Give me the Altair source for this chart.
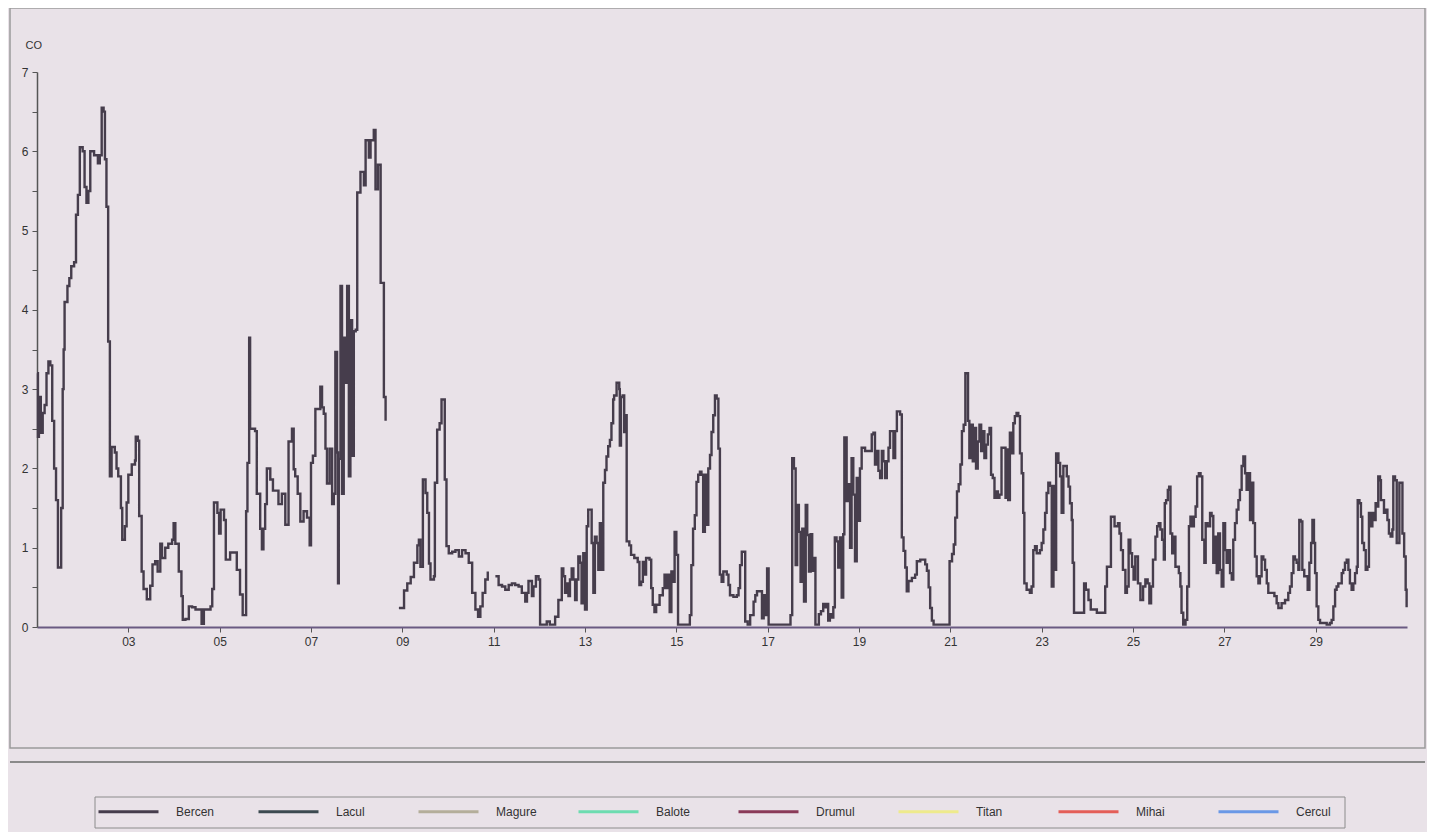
import altair as alt
import pandas as pd

# ---- data (hours since start of day 01, CO value) ----
seg1_hours = [0, 0.5, 1, 2, 3, 4, 5, 6, 7, 8, 9, 10, 11, 12.7, 13.5, 14, 14.5, 16, 17, 18, 19.5, 20.5, 21.5, 22.5,
              24, 25, 26, 27, 28, 30, 32, 33, 34, 35, 35.7, 36.5, 37.4, 38.3, 39.2, 40.9, 41.8, 42.7, 44.1, 44.8,
              46.2, 47.1, 48, 49.8, 51.5, 51.9, 53, 53.7, 55, 56, 57.7, 59.5, 60.7, 62.1, 63.4, 64.8, 65.7, 67.4,
              69, 71, 71.8, 72.7, 74.5, 75.9, 76.6, 78, 79.8, 81.5, 83.3, 85, 86.5, 87.7, 89.5, 91.2, 92.1, 93,
              94.8, 95.7, 96.5, 98.3, 99.2, 101.5, 104.1, 105, 106.7, 108.1, 109.4, 109.9, 110.6, 111.5, 112,
              114.6, 115.5, 117.3, 118.2, 119, 119.9, 120.8, 122.6, 124, 126.9, 128.7, 130.5, 132.2, 134, 134.9,
              135.7, 137, 138.4, 140.1, 141.9, 143.3, 144, 145, 146.3, 148.9, 149.8, 150.7, 151.6, 152.4, 153.8,
              155.1, 156, 156.8, 157.7, 158.2, 158.6, 159.5, 160.3, 161.2, 162.1, 163, 163.9, 164.7, 165.6, 166.5,
              167.5, 168.3, 170, 171.8, 172.7, 174.4, 175.3, 177, 177.9, 179.2, 180.6, 182.3, 183.2]
seg1_co = [3.2, 2.4, 2.9, 2.45, 2.7, 2.8, 3.2, 3.35, 3.3, 2.6, 2.0, 1.6, 0.75, 1.5, 3.0, 3.5, 4.1, 4.3, 4.4, 4.55, 4.6,
           5.2, 5.45, 6.05, 6.0, 5.55, 5.35, 5.5, 6.0, 5.95, 5.85, 5.95, 6.55, 6.5, 5.9, 5.3, 3.6, 1.9, 2.27, 2.2,
           2.0, 1.9, 1.5, 1.1, 1.27, 1.57, 1.92, 2.05, 2.1, 2.4, 2.35, 1.4, 0.7, 0.48, 0.35, 0.52, 0.79, 0.83, 0.7,
           1.05, 0.87, 1.0, 1.05, 1.1, 1.31, 1.05, 0.7, 0.39, 0.09, 0.1, 0.26, 0.25, 0.22, 0.22, 0.04, 0.22, 0.22,
           0.26, 0.48, 1.57, 1.44, 1.18, 1.48, 1.35, 0.85, 0.94, 0.94, 0.72, 0.41, 0.15, 0.15, 1.46, 2.07, 3.65,
           2.5, 2.47, 1.68, 1.24, 0.98, 1.24, 1.55, 2.0, 1.86, 1.72, 1.55, 1.68, 1.29, 2.34, 2.5, 1.99, 1.9, 1.68,
           1.33, 1.46, 1.38, 1.03, 2.07, 2.16, 2.75, 3.03, 2.77, 2.69, 2.25, 1.81, 2.25, 1.55, 1.68, 3.47, 2.2,
           0.55, 2.12, 4.3, 1.68, 3.65, 3.08, 4.3, 1.9, 3.87, 2.16, 3.73, 3.75, 5.48, 5.74, 5.57, 6.14, 5.92,
           6.14, 6.27, 5.52, 5.83, 4.34, 2.9, 2.6]

seg2_hours = [190.2, 192.9, 194.6, 196.4, 198.1, 199.9, 200.7, 201.5, 202.8, 204.2, 205.1, 206, 206.8, 208.6,
              209.1, 210.3, 211.6, 212.6, 213.8, 214.3, 215.2, 216.4, 218.2, 219.9, 221.7, 223.4, 225.2, 226.9,
              228.7, 230.4, 231.8, 233, 234.2, 235.6, 236.9]
seg2_co = [0.24, 0.46, 0.55, 0.63, 0.81, 1.03, 1.1, 0.76, 1.86, 1.69, 1.44, 0.8, 0.6, 0.64, 1.82, 2.49, 2.57,
           2.87, 2.87, 1.86, 1.02, 0.93, 0.95, 0.97, 0.89, 0.97, 0.93, 0.81, 0.43, 0.22, 0.13, 0.26, 0.43, 0.6, 0.7]

seg3_hours = [240.9, 242.6, 244.4, 246.1, 247.9, 249.6, 251.3, 253.1, 254.8, 256.6, 257.5, 258.3, 260.1, 260.9,
              262.2, 263.6, 264.4, 267.9, 269.5, 272.3, 274, 275.8, 276.6, 277.5, 278.4, 279.3, 280.1, 281,
              281.9, 282.8, 283.6, 284.5, 285.4, 286.2, 287.1, 288, 288.9, 289.7, 291.5, 292.4, 293.2, 294.1,
              295, 295.8, 296.7, 297.6, 298.5, 299.3, 300.2, 301.1, 301.9, 302.8, 303.3, 304.6, 306, 306.3,
              306.9, 307.8, 308.6, 309.5, 309.9, 311.3, 312.2, 313.9, 315.7, 316.6, 317.5, 318.4, 319.2, 320.1,
              321.9, 322.8, 323.6, 324.5, 325.4, 327.2, 328.9, 329.8, 330.7, 331.6, 332.5, 333.4, 334.2, 335.1,
              336, 336.9, 343.1, 343.9, 344.8, 345.7, 346.6, 347.5, 348.4, 349.2, 350.1, 351, 351.9, 352.8,
              353.7, 354.5, 355.4, 356.3, 357.2, 358.1, 358.9, 359.8, 360.7, 362.5, 363.4, 364.2, 366, 367.8,
              368.7, 369.5, 370.4, 371.7, 372.2, 373.5, 374.8, 376.6, 377.5, 378.4, 380.1, 381, 381.9, 382.8,
              383.7, 384.5, 396, 396.9, 397.8, 398.7, 399.5, 400.4, 401.3, 402.2, 403.1, 404, 404.8, 405.7,
              406.6, 407.4, 408.4, 409.1, 410.9, 412, 413.2, 414.1, 414.9, 415.8, 416.7, 417.6, 418.5, 419.3,
              420.2, 421.1, 422, 422.9, 423.7, 424.3, 425.5, 426.4, 427.3, 428.1, 429, 429.9, 430.8, 431.6,
              432.5, 433.4, 435.2, 438.7, 439.6, 440.4, 441.3, 442.2, 443.1, 444, 444.8, 445.7, 446.6, 447.5,
              448.3, 450.1, 451, 451.9, 453.6, 454.5, 455.4, 456.3, 457.1, 458, 459.8, 461.5, 462.4, 464.2,
              466.8, 467.7, 468.6, 469.4, 470.3, 471.2, 479.6, 480.9, 481.8, 482.6, 483.5, 484.4, 485.3, 486.1,
              487, 487.9, 488.8, 489.3, 490, 490.9, 491.8, 492.7, 493.5, 494.4, 495.3, 496.2, 497, 497.9, 498.8,
              499.7, 500.6, 501.4, 502.3, 503.2, 504.1, 505, 505.8, 506.9, 508.1, 509, 509.5, 510.4, 511.3,
              512.2, 513.1, 513.9, 514.8, 515.7, 516.6, 517.5, 518.3, 518.9, 520.1, 521.8, 522.7, 523.6, 524.5,
              525.4, 527.1, 528, 528.9, 529.8, 530.6, 531.5, 532.4, 533.3, 534.2, 535, 535.6, 536.8, 537.7,
              538.5, 539.4, 541.2, 542.1, 542.9, 543.8, 544.3, 545, 549.6, 550.3, 551.2, 552.6, 553.8, 557,
              560.2, 561.4, 562.3, 563.7, 564.4, 565.4, 566.3, 568.1, 568.9, 569.7, 570.7, 572, 572.8, 573.7,
              574.6, 575.5, 576.3, 577.2, 578.6, 579.9, 581.3, 582.5, 583.7, 584.6, 585.5, 586.5, 587.8, 588.7,
              589.5, 590.4, 591.3, 592.2, 592.7, 593.4, 594.3, 595, 595.7, 596.6, 597.4, 598.3, 600.1, 600.9,
              601.5, 602.4, 603.6, 604.5, 605.4, 606.2, 607.1, 608, 608.9, 609.7, 610.6, 611.5, 612.4, 613.5,
              614.2, 615.2, 616.5, 617.3, 618.2, 619.1, 620, 620.8, 621.7, 622.6, 623.5, 624.4, 625.2, 626.1,
              627, 627.9, 628.7, 629.6, 630.5, 631.4, 632.2, 633.1, 634, 634.9, 635.7, 636.6, 637.5, 638.4,
              639.2, 640.1, 641, 641.9, 642.7, 643.6, 644.5, 645.4, 646.3, 647.1, 648.9, 650.3, 651.5, 652.4,
              654.1, 655.9, 657.6, 658.5, 659.4, 660.3, 661.1, 662, 662.9, 663.4, 664.1, 665, 666, 666.9, 667.8,
              668.7, 669.6, 670.3, 671.1, 671.7, 672.5, 673.4, 674.3, 677.8, 679.5, 680.4, 681.3, 682.2, 683,
              683.9, 685.7, 686.5, 687.4, 688.3, 689.2, 690, 690.9, 691.8, 692.7, 693.6, 694.1, 695, 695.8,
              696.5, 697.4, 698.3, 699.2, 700, 700.9, 701.8, 702.7, 703.5, 704.4, 704.9, 705.8, 706.3, 707,
              707.9, 708.8, 709.7, 710.5, 711.4, 712.3, 712.8, 713.7, 714.6, 715.5, 716, 716.7, 717.6, 718.5,
              719.3, 719.8]
seg3_co = [0.64, 0.53, 0.51, 0.47, 0.53, 0.55, 0.53, 0.51, 0.43, 0.32, 0.43, 0.58, 0.39, 0.51, 0.64, 0.6, 0.03,
           0.07, 0.03, 0.13, 0.34, 0.74, 0.64, 0.43, 0.55, 0.39, 0.6, 0.74, 0.6, 0.34, 0.6, 0.89, 0.81, 0.3, 0.93,
           0.22, 1.27, 1.48, 1.06, 0.43, 1.14, 1.06, 0.72, 1.31, 0.72, 1.82, 1.98, 2.15, 2.28, 2.36, 2.57, 2.87,
           2.92, 3.08, 3.0, 2.29, 2.9, 2.92, 2.46, 2.67, 1.08, 1.03, 0.91, 0.87, 0.82, 0.53, 0.57, 0.82, 0.66,
           0.87, 0.85, 0.49, 0.28, 0.19, 0.28, 0.4, 0.49, 0.66, 0.49, 0.66, 0.19, 0.7, 0.57, 1.2, 0.91, 0.03,
           0.15, 0.78, 1.24, 1.41, 1.83, 1.92, 1.96, 1.92, 1.2, 1.92, 1.29, 2.0, 2.17, 2.46, 2.67, 2.92, 2.88,
           2.25, 0.66, 0.57, 0.7, 0.66, 0.53, 0.4, 0.38, 0.4, 0.49, 0.78, 0.95, 0.95, 0.07, 0.03, 0.15, 0.32,
           0.4, 0.45, 0.45, 0.11, 0.4, 0.15, 0.74, 0.03, 0.15, 2.13, 2.0, 0.78, 1.54, 1.2, 0.57, 1.24, 0.32, 1.54,
           1.16, 0.7, 1.17, 0.71, 0.87, 0.03, 0.16, 0.2, 0.29, 0.25, 0.29, 0.08, 0.16, 0.12, 0.25, 1.13, 1.08,
           0.75, 1.13, 0.37, 1.17, 2.39, 1.59, 1.8, 1.0, 2.13, 1.67, 0.83, 1.88, 1.34, 2.0, 2.26, 2.22, 2.43,
           2.45, 2.05, 2.22, 1.97, 1.88, 2.22, 2.09, 1.88, 2.09, 2.26, 2.47, 2.13, 2.47, 2.72, 2.68, 1.13, 0.96,
           0.75, 0.45, 0.58, 0.62, 0.66, 0.83, 0.85, 0.79, 0.71, 0.5, 0.24, 0.08, 0.03, 0.83, 0.92, 1.04, 1.38,
           1.71, 1.8, 2.05, 2.47, 2.55, 3.2, 3.2, 2.6, 2.13, 2.55, 2.09, 2.51, 2.0, 2.34, 2.55, 2.22, 2.47, 2.13,
           2.3, 2.43, 2.51, 1.92, 1.88, 1.63, 1.71, 1.63, 1.67, 2.26, 2.26, 1.63, 2.24, 1.6, 2.45, 2.19, 2.57,
           2.66, 2.7, 2.66, 2.19, 1.94, 1.44, 0.55, 0.47, 0.43, 0.51, 0.97, 1.02, 0.93, 0.97, 1.06, 1.23, 1.44,
           1.69, 1.82, 1.78, 0.51, 1.78, 0.72, 2.19, 2.07, 1.9, 1.44, 2.03, 1.9, 1.77, 1.56, 1.35, 0.81, 0.18,
           0.18, 0.55, 0.47, 0.34, 0.22, 0.18, 0.18, 0.51, 0.76, 0.76, 1.39, 1.39, 1.27, 1.31, 1.18, 0.97, 0.72,
           0.43, 0.51, 1.1, 0.93, 0.76, 0.6, 0.89, 0.55, 0.34, 0.51, 0.6, 0.55, 0.3, 0.51, 0.85, 1.14, 1.27,
           1.31, 1.23, 1.1, 0.85, 1.56, 1.6, 1.73, 1.77, 1.18, 0.93, 1.14, 0.76, 0.68, 0.51, 0.18, 0.03, 0.09,
           0.51, 1.27, 1.39, 1.27, 1.39, 1.52, 1.9, 1.94, 1.9, 1.1, 0.81, 1.31, 1.27, 1.44, 1.4, 0.81, 1.14,
           0.68, 1.18, 0.72, 0.51, 1.31, 0.97, 0.81, 0.97, 0.68, 0.6, 1.1, 1.31, 1.48, 1.6, 1.73, 2.03, 2.15,
           1.94, 1.73, 1.94, 1.35, 1.82, 1.31, 0.89, 0.64, 0.55, 0.64, 0.89, 0.85, 0.72, 0.55, 0.43, 0.43, 0.39,
           0.3, 0.24, 0.3, 0.34, 0.43, 0.51, 0.68, 0.89, 0.85, 0.81, 0.72, 1.35, 1.33, 0.72, 0.64, 0.64, 0.47,
           0.81, 1.06, 1.35, 1.06, 0.68, 0.26, 0.09, 0.05, 0.03, 0.05, 0.09, 0.26, 0.47, 0.51, 0.55, 0.68, 0.72,
           0.81, 0.85, 0.72, 0.55, 0.47, 0.55, 0.68, 0.76, 1.6, 1.56, 1.39, 1.06, 0.97, 0.72, 0.76, 1.44, 1.27,
           1.44, 1.35, 1.56, 1.52, 1.9, 1.85, 1.6, 1.6, 1.44, 1.48, 1.35, 1.18, 1.14, 1.23, 1.9, 1.85, 1.06,
           1.06, 1.82, 1.82, 1.18, 0.89, 0.47, 0.25]

series_names = ["Bercen", "Lacul", "Magure", "Balote", "Drumul", "Titan", "Mihai", "Cercul"]
series_colors = ["#463d4c", "#3c4a50", "#b4ae9a", "#6ddcb0", "#8a3a58", "#eeea8c", "#e45e58", "#6a98e6"]
x_tick_days = list(range(3, 30, 2))
y_tick_values = [i / 2 for i in range(0, 15)]

rows = []
for seg_id, (hs, vs) in enumerate([(seg1_hours, seg1_co), (seg2_hours, seg2_co), (seg3_hours, seg3_co)]):
    for h, v in zip(hs, vs):
        rows.append({"day": 1 + h / 24.0, "co": v, "seg": seg_id, "series": "Bercen"})
df = pd.DataFrame(rows)

PAPER = "#e9e2e8"

line = alt.Chart(df).mark_line(interpolate="step-after", strokeWidth=2.4).encode(
    x=alt.X("day:Q", scale=alt.Scale(domain=[1, 31], nice=False, zero=False),
            axis=alt.Axis(values=x_tick_days, title=None, grid=False,
                          labelExpr="(datum.value < 10 ? '0' : '') + datum.value",
                          tickSize=5, labelPadding=4, labelFontSize=12, labelColor="#333",
                          domainColor="#6a5a82", domainWidth=2, tickColor="#555")),
    y=alt.Y("co:Q", scale=alt.Scale(domain=[0, 7], nice=False),
            axis=alt.Axis(values=y_tick_values, grid=False,
                          labelExpr="datum.value % 1 == 0 ? format(datum.value, 'd') : ''",
                          title="CO", titleAngle=0, titleAlign="left", titleBaseline="middle",
                          titleX=-12, titleY=-27, titleFontSize=11, titleFontWeight="normal",
                          titleColor="#333",
                          tickSize=5, labelPadding=4, labelFontSize=12, labelColor="#333",
                          domainColor="#555", domainWidth=1.5, tickColor="#555")),
    detail="seg:N",
    color=alt.Color("series:N", title=None,
                    scale=alt.Scale(domain=series_names, range=series_colors),
                    legend=alt.Legend(orient="none", legendX=60, legendY=708, direction="horizontal",
                                      columns=8, symbolType="stroke", symbolSize=3600,
                                      symbolStrokeWidth=3, labelFontSize=12, labelColor="#333",
                                      labelOffset=16, columnPadding=35, gridAlign="all",
                                      padding=0)),
)

one = pd.DataFrame({"k": [0]})
frame = alt.Chart(one).mark_rect(fillOpacity=0, stroke="#9a9a9a", strokeWidth=1.5).encode(
    x=alt.value(-27), x2=alt.value(1388), y=alt.value(-64), y2=alt.value(676)
)
shadow = alt.Chart(one).mark_rule(stroke="#8a8a8a", strokeWidth=2).encode(
    x=alt.value(-27), x2=alt.value(1388), y=alt.value(690)
)
legend_box = alt.Chart(one).mark_rect(fillOpacity=0, stroke="#8c8c8c", strokeWidth=1).encode(
    x=alt.value(58), x2=alt.value(1308), y=alt.value(725), y2=alt.value(756)
)

chart = alt.layer(frame, shadow, legend_box, line).properties(
    width=1370, height=555,
    padding={"left": 29, "top": 64, "right": 20, "bottom": 205},
    autosize=alt.AutoSizeParams(type="none"),
    background=PAPER,
).configure(font="Liberation Sans").configure_view(strokeWidth=0)

chart.save("out.html", embed_options={"renderer": "svg", "actions": False})
